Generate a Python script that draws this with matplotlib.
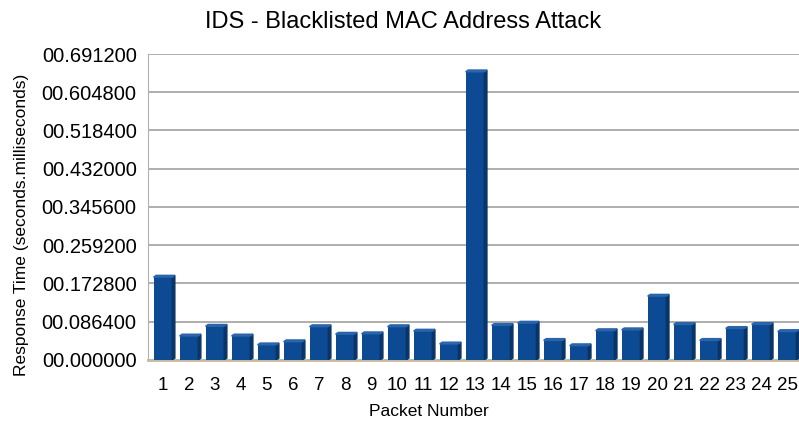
import matplotlib.pyplot as plt
from matplotlib.patches import Polygon
from matplotlib.ticker import FuncFormatter

plt.rcParams['font.family'] = ['Liberation Sans', 'DejaVu Sans']

packets = list(range(1, 26))
resp_time = [0.187, 0.054, 0.076, 0.054, 0.034, 0.041, 0.075, 0.058, 0.059, 0.075,
             0.065, 0.036, 0.651, 0.078, 0.083, 0.044, 0.032, 0.066, 0.068, 0.144,
             0.080, 0.044, 0.071, 0.080, 0.064]
yticks = [0.0, 0.0864, 0.1728, 0.2592, 0.3456, 0.4320, 0.5184, 0.6048, 0.6912]

fig = plt.figure(figsize=(7.99, 4.32), dpi=100)
ax = fig.add_axes([0.185, 0.167, 0.815, 0.708])

w = 0.72
bars = ax.bar(packets, resp_time, width=w, color='#0d4a94', zorder=3)

# fake 3d look: darker side face and lighter top
dx, dy = 0.1, 0.004
for b in bars:
    x0 = b.get_x(); x1 = x0 + b.get_width(); h = b.get_height()
    ax.add_patch(Polygon([(x1, 0), (x1 + dx, dy), (x1 + dx, h + dy), (x1, h)],
                         closed=True, color='#083466', zorder=3))
    ax.add_patch(Polygon([(x0, h), (x0 + dx, h + dy), (x1 + dx, h + dy), (x1, h)],
                         closed=True, color='#2a64ab', zorder=3))

ax.set_xlim(0.42, 25.46)
ax.set_ylim(0, 0.6912)
ax.set_yticks(yticks)
ax.yaxis.set_major_formatter(FuncFormatter(lambda v, p: '00.%06d' % round(v * 1e6)))
ax.set_xticks(packets)
ax.grid(axis='y', color='#a8a8a8', linewidth=1.3, zorder=0)
for s in ['top', 'right']:
    ax.spines[s].set_visible(False)
ax.spines['left'].set_color('#b0b0b0')
ax.spines['bottom'].set_color('#c8b8a0')
ax.spines['bottom'].set_linewidth(2)
ax.tick_params(axis='y', length=0, labelsize=14.5, pad=8)
ax.tick_params(axis='x', length=0, labelsize=13.5, pad=12)

ax.set_xlabel('Packet Number', fontsize=12.5)
ax.xaxis.set_label_coords((429 - 148) / 651, -0.145)
ax.set_ylabel('Response Time (seconds.milliseconds)', fontsize=12.5)
ax.yaxis.set_label_coords(-0.183, (360 - 225) / 306)
fig.suptitle('IDS - Blacklisted MAC Address Attack', fontsize=17, x=0.505, y=0.975)

fig.savefig('out.png', dpi=100)
